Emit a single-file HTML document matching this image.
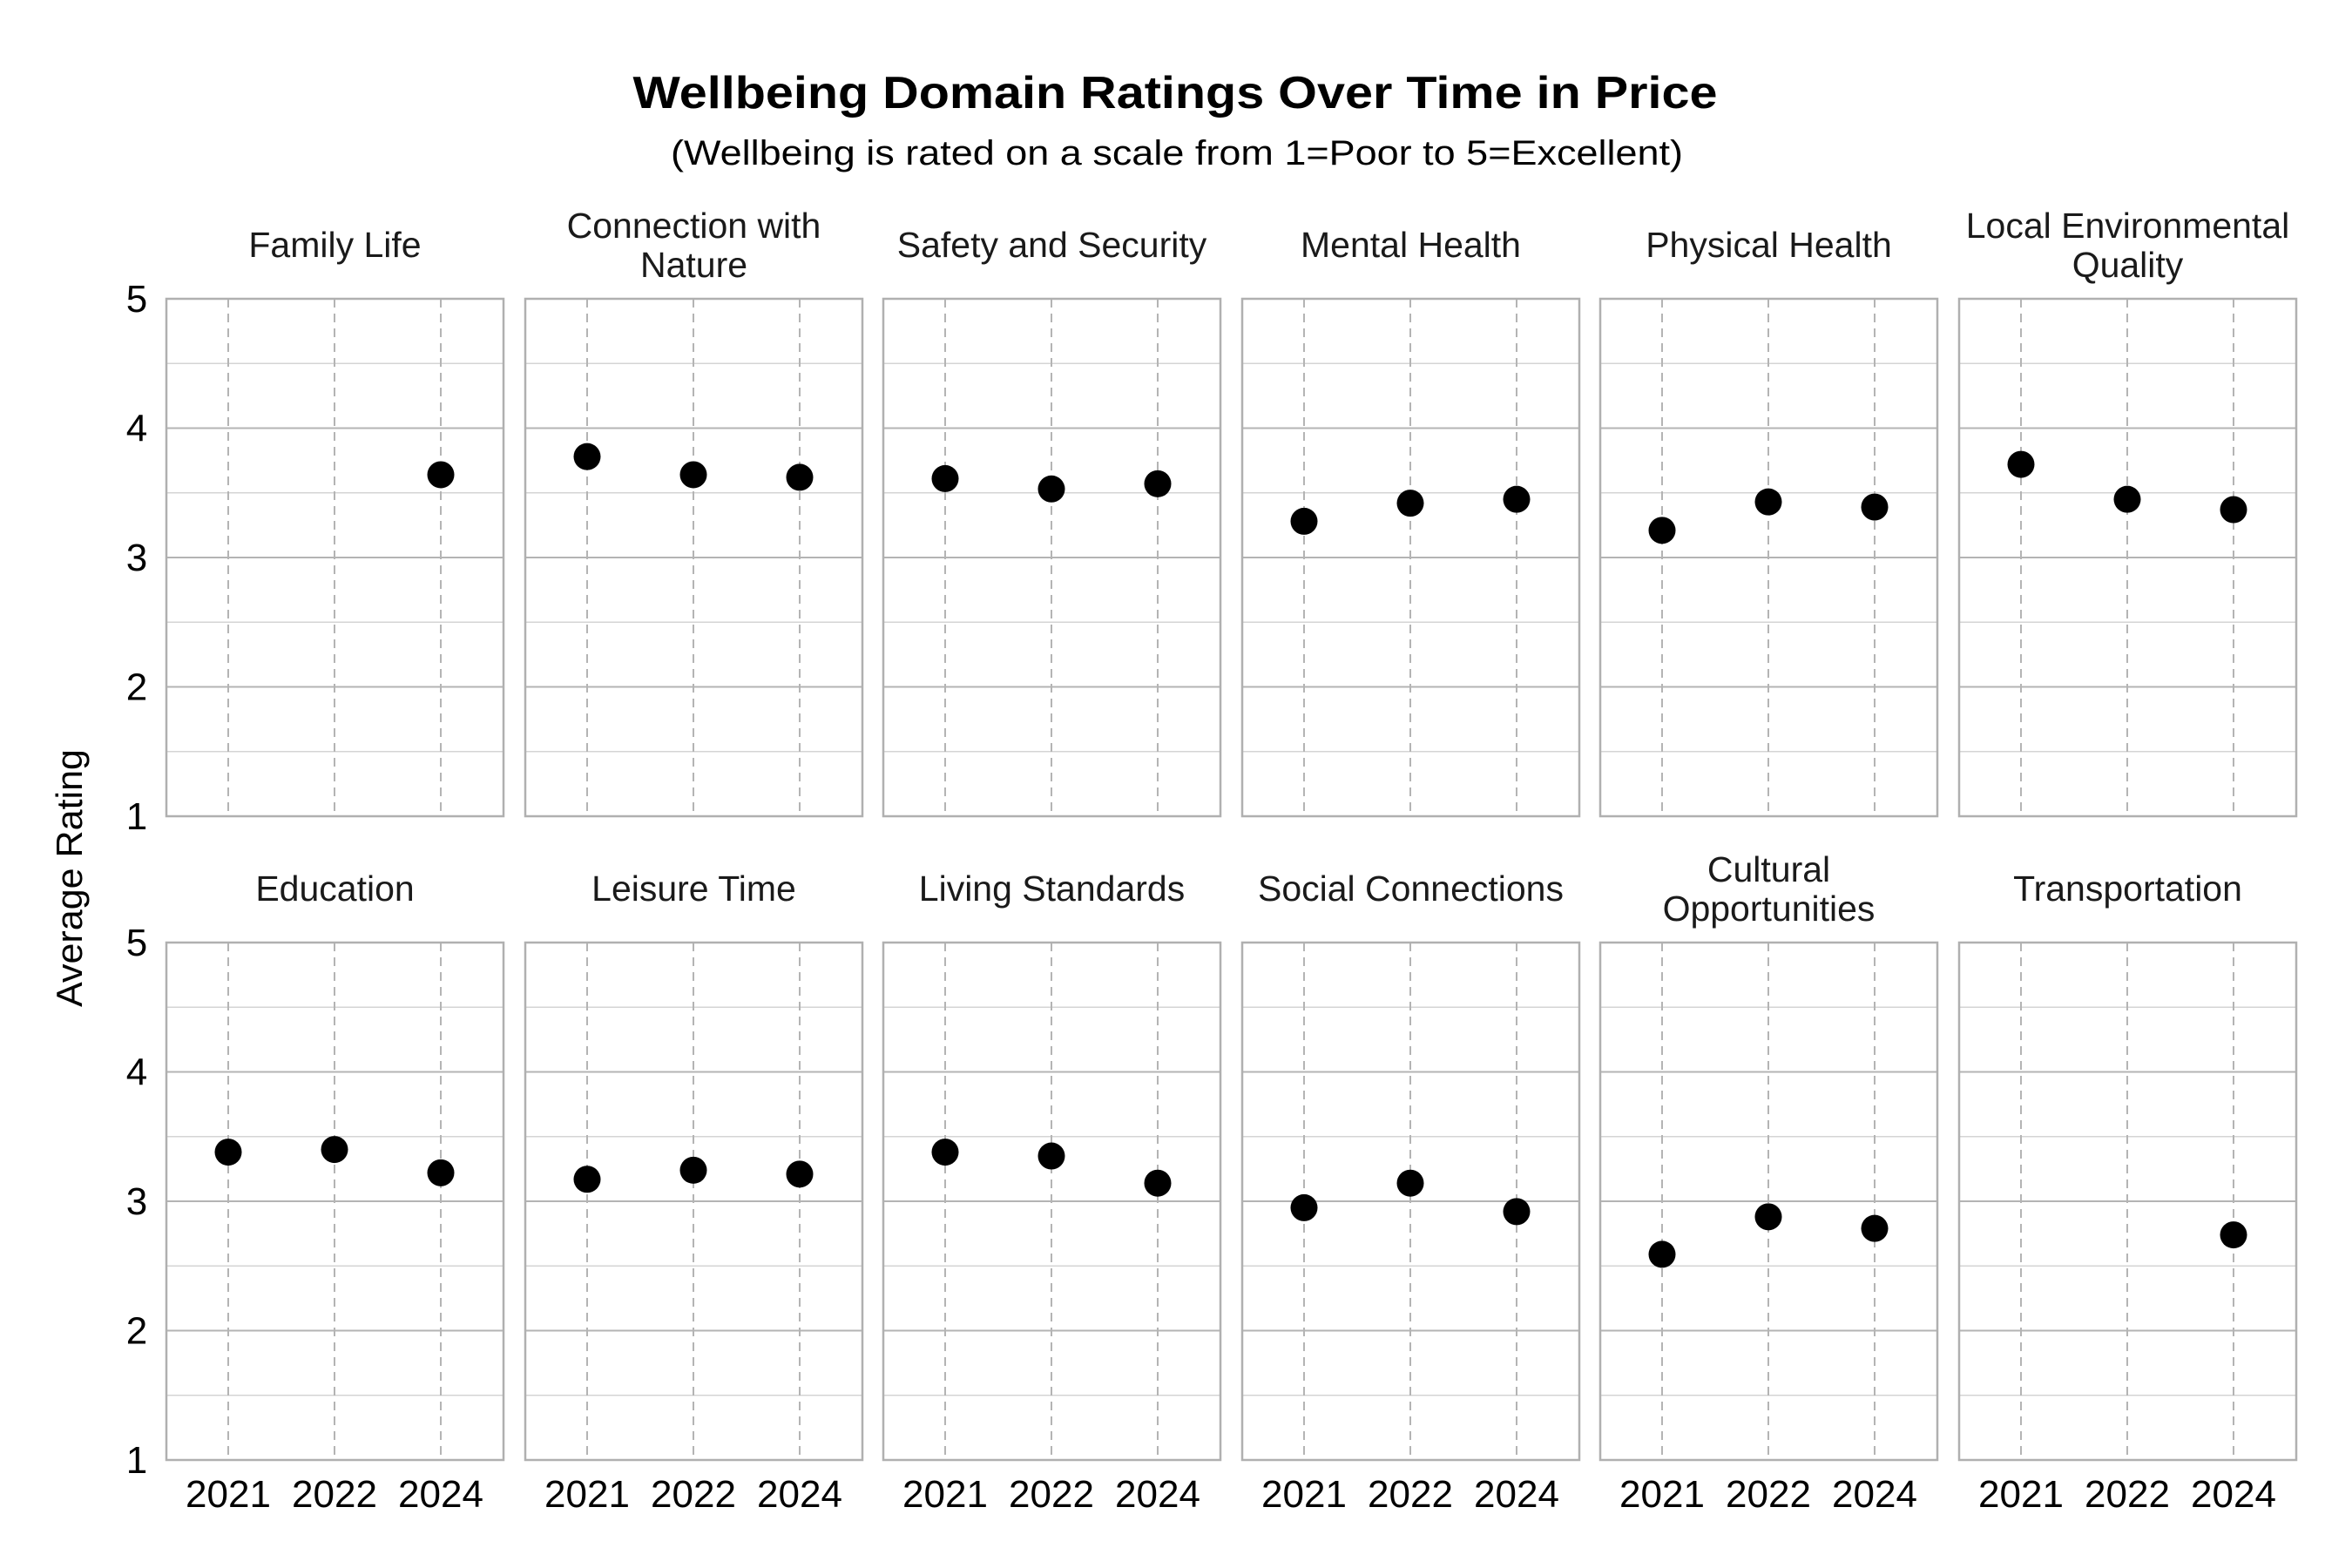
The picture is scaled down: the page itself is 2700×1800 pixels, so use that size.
<!DOCTYPE html>
<html><head><meta charset="utf-8"><style>
html,body{margin:0;padding:0;background:#fff}
svg{display:block}
text{font-family:"Liberation Sans",sans-serif}
</style></head><body>
<svg id="s" width="2700" height="1800" viewBox="0 0 2700 1800" xmlns="http://www.w3.org/2000/svg">
<rect width="2700" height="1800" fill="#fff"/>
<text x="1349" y="124" font-size="52" font-weight="bold" text-anchor="middle" textLength="1245" lengthAdjust="spacingAndGlyphs" fill="#000">Wellbeing Domain Ratings Over Time in Price</text>
<text x="1351" y="189" font-size="40" text-anchor="middle" textLength="1162" lengthAdjust="spacingAndGlyphs" fill="#000">(Wellbeing is rated on a scale from 1=Poor to 5=Excellent)</text>
<text transform="translate(94,1008) rotate(-90)" font-size="42" text-anchor="middle" textLength="296" lengthAdjust="spacingAndGlyphs" fill="#000">Average Rating</text>
</svg>
<script>
const s=document.getElementById('s');const NS='http://www.w3.org/2000/svg';
function el(t,a,txt){const e=document.createElementNS(NS,t);for(const k in a)e.setAttribute(k,a[k]);if(txt!=null)e.textContent=txt;s.appendChild(e);return e;}
const lefts=[191,603,1014,1426,1837,2249];const W=387;
const rows=[{top:343,bot:937},{top:1082,bot:1676}];
const panels=[
[["Family Life"],[null,null,3.64]],
[["Connection with","Nature"],[3.78,3.64,3.62]],
[["Safety and Security"],[3.61,3.53,3.57]],
[["Mental Health"],[3.28,3.42,3.45]],
[["Physical Health"],[3.21,3.43,3.39]],
[["Local Environmental","Quality"],[3.72,3.45,3.37]],
[["Education"],[3.38,3.40,3.22]],
[["Leisure Time"],[3.17,3.24,3.21]],
[["Living Standards"],[3.38,3.35,3.14]],
[["Social Connections"],[2.95,3.14,2.92]],
[["Cultural","Opportunities"],[2.59,2.88,2.79]],
[["Transportation"],[null,null,2.74]]];
const FS=41;
panels.forEach((p,i)=>{
const r=rows[Math.floor(i/6)],L=lefts[i%6],R=L+W,H=r.bot-r.top;
const y=v=>r.bot-(v-1)*H/4;
for(let k=1;k<8;k+=2){const yy=y(1+k*0.5);el('line',{x1:L,x2:R,y1:yy,y2:yy,stroke:'#d4d4d4','stroke-width':1.5});}
for(let k=2;k<=4;k++){const yy=y(k);el('line',{x1:L,x2:R,y1:yy,y2:yy,stroke:'#b4b4b4','stroke-width':2});}
const xs=[L+71,L+193,L+315];
xs.forEach(x=>el('line',{x1:x,x2:x,y1:r.top,y2:r.bot,stroke:'#b4b4b4','stroke-width':2,'stroke-dasharray':'10,7'}));
el('rect',{x:L,y:r.top,width:W,height:H,fill:'none',stroke:'#b0b0b0','stroke-width':2.5});
p[1].forEach((v,j)=>{if(v!=null)el('circle',{cx:xs[j],cy:y(v),r:15.5,fill:'#000'});});
const cx=L+W/2;
if(p[0].length==1)el('text',{x:cx,y:r.top-48,'font-size':FS,'text-anchor':'middle',fill:'#1a1a1a'},p[0][0]);
else{el('text',{x:cx,y:r.top-70,'font-size':FS,'text-anchor':'middle',fill:'#1a1a1a'},p[0][0]);el('text',{x:cx,y:r.top-25,'font-size':FS,'text-anchor':'middle',fill:'#1a1a1a'},p[0][1]);}
if(i>=6)['2021','2022','2024'].forEach((t,j)=>el('text',{x:xs[j],y:1730,'font-size':44,'text-anchor':'middle',fill:'#000'},t));
if(i%6==0)for(let k=1;k<=5;k++)el('text',{x:157,y:y(k)+15,'font-size':44,'text-anchor':'middle',fill:'#000'},String(k));
});
</script>
</body></html>
